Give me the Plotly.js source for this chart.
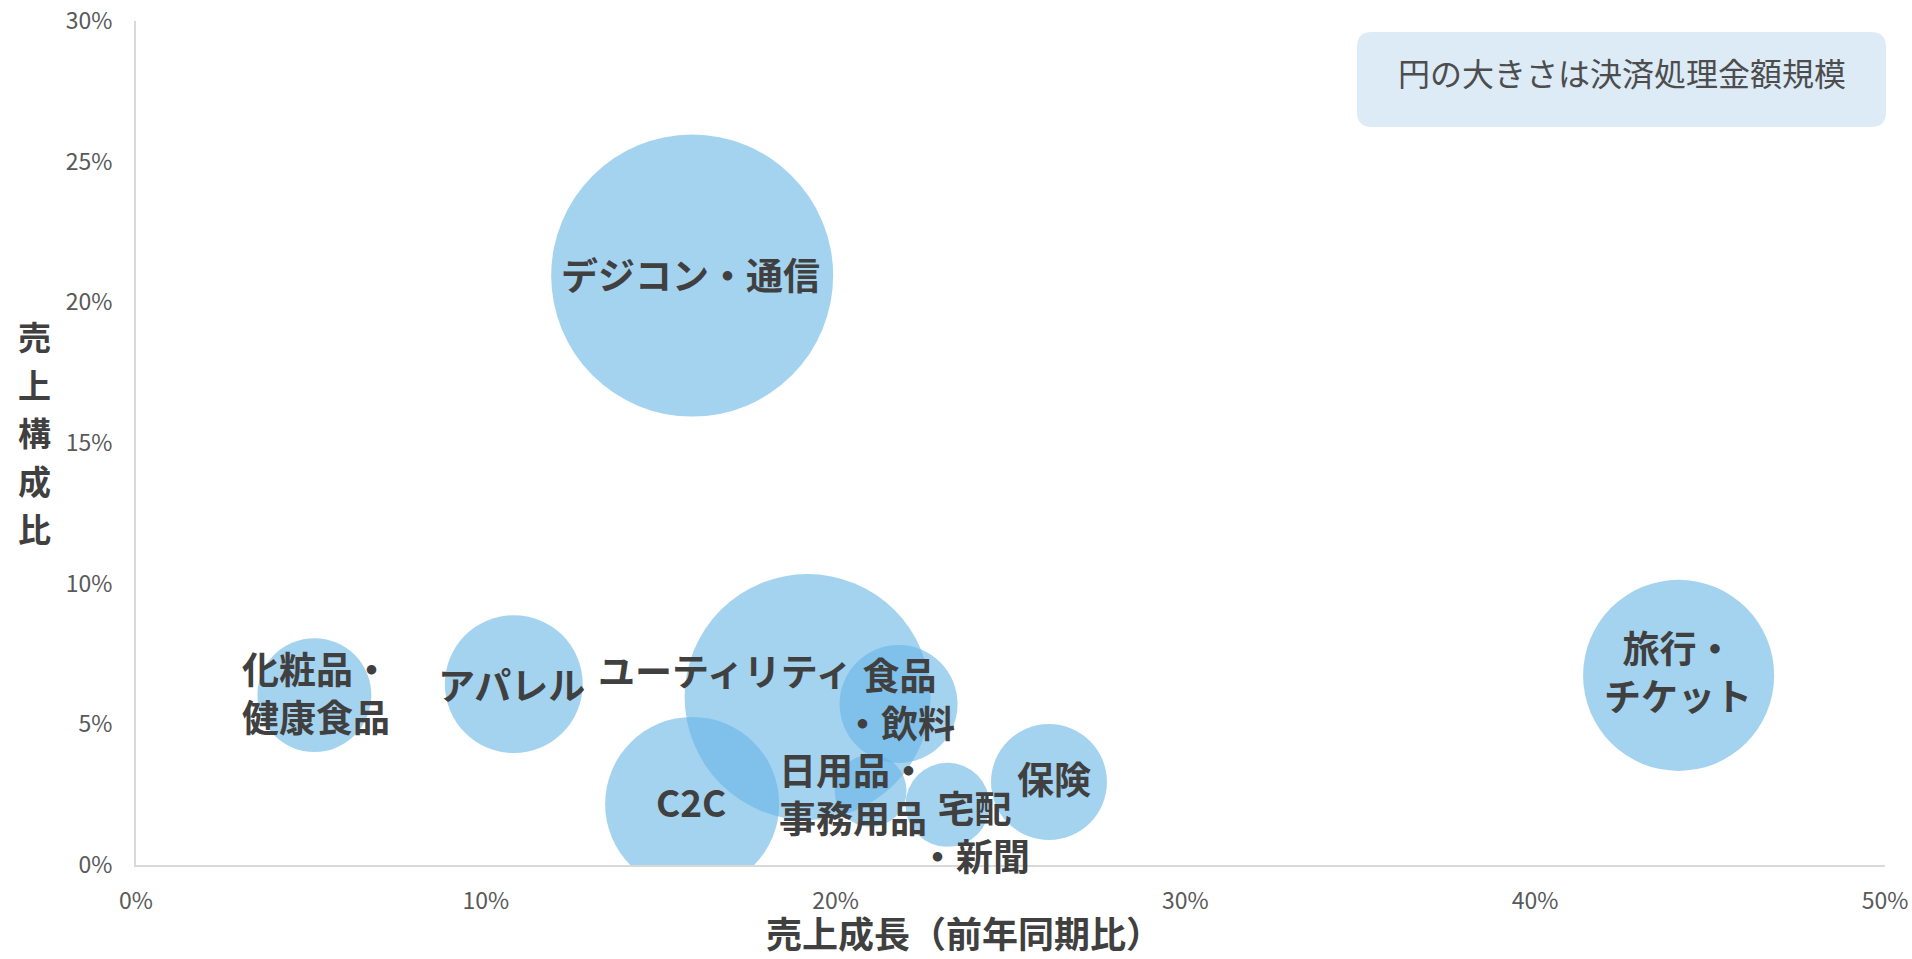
<!DOCTYPE html>
<html>
<head>
<meta charset="utf-8">
<script src="https://cdn.plot.ly/plotly-3.0.1.min.js"></script>
<style>
html, body { margin: 0; padding: 0; background: #ffffff; }
#chart { width: 1912px; height: 959px; }
</style>
</head>
<body>
<div id="chart"></div>
<script>
// ---- data ----
const categories = ['デジコン・通信', 'ユーティリティ', 'C2C', '化粧品・健康食品', 'アパレル',
                    '食品・飲料', '日用品・事務用品', '宅配・新聞', '保険', '旅行・チケット'];
const growthPct  = [15.9, 19.2, 15.9, 5.1, 10.8, 21.8, 21.0, 23.2, 26.1, 44.1];   // 売上成長（前年同期比）
const sharePct   = [20.95, 5.97, 2.17, 6.04, 6.43, 5.72, 2.64, 2.14, 2.95, 6.74];  // 売上構成比
const amount     = [100, 76.1, 38.1, 16.3, 23.9, 17.5, 6.5, 8.9, 16.9, 45.9];      // 決済処理金額規模（相対値）
const labelText  = ['デジコン・通信', 'ユーティリティ', 'C2C', '化粧品・<br>健康食品', 'アパレル',
                    '食品<br>・飲料', '日用品・<br>事務用品', '宅配<br>・新聞', '保険', '旅行・<br>チケット'];
const xTickVals   = [0, 10, 20, 30, 40, 50];
const xTickLabels = ['0%', '10%', '20%', '30%', '40%', '50%'];
const yTickVals   = [0, 5, 10, 15, 20, 25, 30];
const yTickLabels = ['0%', '5%', '10%', '15%', '20%', '25%', '30%'];
const xTitle     = '売上成長（前年同期比）';
const yTitle     = '売上構成比';
const noteText   = '円の大きさは決済処理金額規模';

// ---- layout geometry / styles ----
const W = 1912, H = 959;
const M = { l: 136, r: 27, t: 21, b: 94 };
const PW = W - M.l - M.r, PH = H - M.t - M.b;
const px2paperX = (px) => (px - M.l) / PW;
const px2paperY = (py) => (H - M.b - py) / PH;
const FONT = '"Noto Sans CJK JP", "Noto Sans", sans-serif';
const TEXT_DARK = '#404040';

// label nudges in pixels (right / up), as placed in the reference
const labelDX = [-2, -82, -1, 2, -2, 1, -18, 27, 5, -1];
const labelDY = [2, 27, 3, 3, 0, 6, -2, -26, 4, 4];

// bubble diameter of the largest amount, in pixels (area-proportional sizing)
const maxDiameter = 282;
const sizeRef = 2 * Math.max(...amount) / (maxDiameter * maxDiameter);

const trace = {
  type: 'scatter',
  mode: 'markers',
  x: growthPct,
  y: sharePct,
  text: categories,
  hoverinfo: 'text',
  marker: {
    size: amount,
    sizemode: 'area',
    sizeref: sizeRef,
    color: 'rgba(104,181,230,0.6)',
    opacity: 1,
    line: { width: 0 }
  },
  cliponaxis: true,
  showlegend: false
};

const annotations = categories.map((c, i) => ({
  x: growthPct[i], y: sharePct[i], xref: 'x', yref: 'y',
  text: labelText[i], showarrow: false,
  xanchor: 'center', yanchor: 'middle', align: 'center',
  xshift: labelDX[i], yshift: labelDY[i],
  font: { family: FONT, size: 37, color: TEXT_DARK, weight: 700 }
}));

// x axis title
annotations.push({
  xref: 'paper', yref: 'paper', x: px2paperX(964), y: px2paperY(932),
  xanchor: 'center', yanchor: 'middle', showarrow: false,
  text: xTitle,
  font: { family: FONT, size: 36, color: TEXT_DARK, weight: 700 }
});
// y axis title, one character per line
const yChars = yTitle.split('');
yChars.forEach((ch, k) => {
  annotations.push({
    xref: 'paper', yref: 'paper',
    x: px2paperX(34), y: px2paperY(432 + (k - 2) * 48),
    xanchor: 'center', yanchor: 'middle', showarrow: false,
    text: ch,
    font: { family: FONT, size: 33, color: TEXT_DARK, weight: 700 }
  });
});
// note box text
annotations.push({
  xref: 'paper', yref: 'paper', x: px2paperX(1621.5), y: px2paperY(72),
  xanchor: 'center', yanchor: 'middle', showarrow: false,
  text: noteText,
  font: { family: FONT, size: 32, color: '#4d4d4d' }
});

// rounded note box
function roundedRectPath(x0p, y0p, x1p, y1p, r) {
  const a = px2paperX(x0p), b = px2paperX(x1p);
  const top = px2paperY(y0p), bot = px2paperY(y1p);
  const rx = r / PW, ry = r / PH;
  return `M ${a + rx},${top} L ${b - rx},${top} Q ${b},${top} ${b},${top - ry} ` +
         `L ${b},${bot + ry} Q ${b},${bot} ${b - rx},${bot} ` +
         `L ${a + rx},${bot} Q ${a},${bot} ${a},${bot + ry} ` +
         `L ${a},${top - ry} Q ${a},${top} ${a + rx},${top} Z`;
}

const layout = {
  width: W, height: H,
  margin: M,
  paper_bgcolor: '#ffffff',
  plot_bgcolor: '#ffffff',
  font: { family: FONT, color: '#595959' },
  xaxis: {
    range: [0, 50], tickmode: 'array', tickvals: xTickVals, ticktext: xTickLabels,
    showgrid: false, zeroline: false, showline: true,
    linecolor: '#d9d9d9', linewidth: 2, ticks: '',
    ticklabelstandoff: 14,
    tickfont: { family: FONT, size: 23, color: '#595959' },
    fixedrange: true
  },
  yaxis: {
    range: [0, 30], tickmode: 'array', tickvals: yTickVals, ticktext: yTickLabels,
    showgrid: false, zeroline: false, showline: true,
    linecolor: '#d9d9d9', linewidth: 2, ticks: '',
    ticklabelstandoff: 17,
    tickfont: { family: FONT, size: 23, color: '#595959' },
    fixedrange: true
  },
  shapes: [{
    type: 'path', xref: 'paper', yref: 'paper', layer: 'below',
    path: roundedRectPath(1357, 32, 1886, 127, 15),
    fillcolor: '#ddebf7', line: { width: 0 }
  }],
  annotations: annotations,
  showlegend: false,
  hovermode: 'closest'
};

Plotly.newPlot('chart', [trace], layout, { displayModeBar: false, staticPlot: true });
</script>
</body>
</html>
